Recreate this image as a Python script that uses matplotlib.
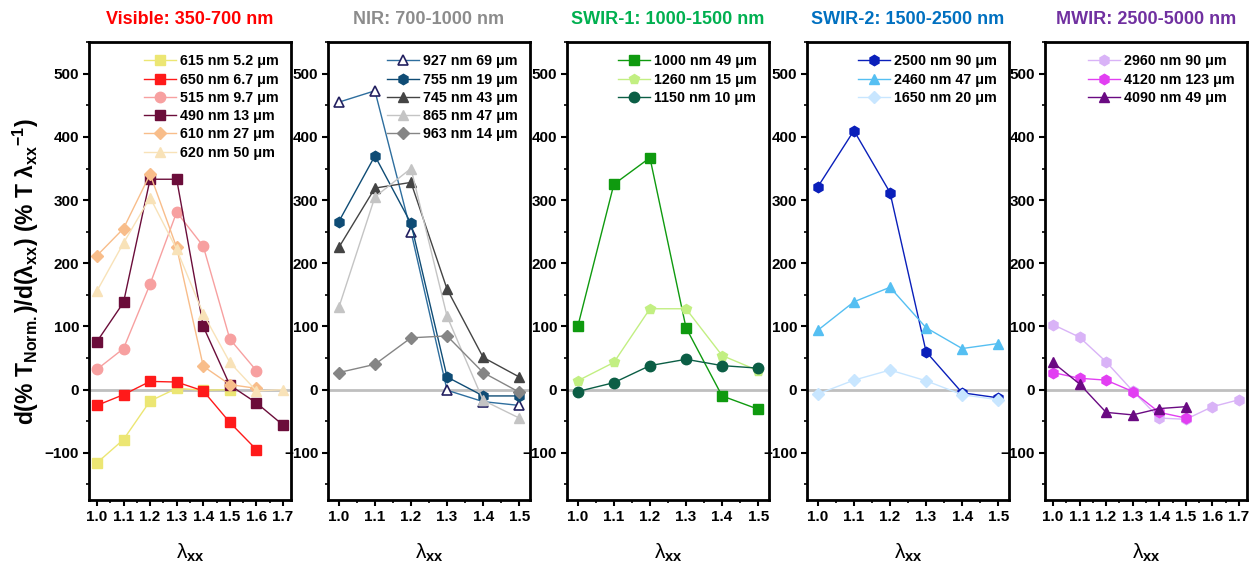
import matplotlib
matplotlib.use("Agg")
import matplotlib.pyplot as plt
from matplotlib.ticker import MultipleLocator

plt.rcParams['font.family'] = ['Liberation Sans', 'DejaVu Sans']
plt.rcParams['font.weight'] = 'bold'
plt.rcParams['mathtext.fontset'] = 'custom'
plt.rcParams['mathtext.rm'] = 'Liberation Sans'
plt.rcParams['mathtext.bf'] = 'Liberation Sans:bold'
plt.rcParams['mathtext.it'] = 'Liberation Sans:italic'

x_long = [1.0, 1.1, 1.2, 1.3, 1.4, 1.5, 1.6, 1.7]

# Visible
vis_labels = ['615 nm 5.2 μm', '650 nm 6.7 μm', '515 nm 9.7 μm',
              '490 nm 13 μm', '610 nm 27 μm', '620 nm 50 μm']
vis_values = [
    [-116, -79, -18, 2, -1, 0],
    [-25, -8, 13, 12, -2, -52, -95],
    [32, 65, 167, 281, 227, 80, 30],
    [76, 138, 333, 333, 100, 7, -21, -56],
    [212, 255, 341, 225, 37, 8, 2],
    [156, 232, 304, 222, 120, 43, -2, 0],
]
vis_colors = ['#ece673', '#ff1a1a', '#f7a0a0', '#6b0d3a', '#f8bd8a', '#f8e2b8']
vis_markers = ['s', 's', 'o', 's', 'D', '^']

# NIR
nir_labels = ['927 nm 69 μm', '755 nm 19 μm', '745 nm 43 μm',
              '865 nm 47 μm', '963 nm 14 μm']
nir_values = [
    [455, 473, 250, -1, -19, -25],
    [266, 370, 263, 20, -10, -10],
    [225, 319, 328, 159, 51, 20],
    [130, 305, 350, 116, -17, -45],
    [27, 40, 82, 85, 27, -4],
]
nir_colors = ['#2e6e9e', '#0f4c75', '#444444', '#c4c4c4', '#858585']
nir_markers = ['^', 'h', '^', '^', 'D']

# SWIR-1
sw1_labels = ['1000 nm 49 μm', '1260 nm 15 μm', '1150 nm 10 μm']
sw1_values = [
    [100, 325, 367, 98, -10, -31],
    [14, 43, 128, 128, 54, 30],
    [-3, 11, 38, 48, 38, 34],
]
sw1_colors = ['#0f9a0f', '#c2ef82', '#0b5e45']
sw1_markers = ['s', 'p', 'o']

# SWIR-2
sw2_labels = ['2500 nm 90 μm', '2460 nm 47 μm', '1650 nm 20 μm']
sw2_values = [
    [321, 410, 312, 60, -5, -13],
    [94, 139, 162, 98, 65, 73],
    [-7, 15, 31, 14, -8, -16],
]
sw2_colors = ['#0a1fba', '#55bff2', '#c8e6ff']
sw2_markers = ['h', '^', 'D']

# MWIR
mw_labels = ['2960 nm 90 μm', '4120 nm 123 μm', '4090 nm 49 μm']
mw_values = [
    [103, 83, 44, -2, -45, -47, -27, -16],
    [27, 18, 15, -3, -36, -45],
    [43, 9, -36, -40, -30, -27],
]
mw_colors = ['#d9b3f7', '#e23ff2', '#6a0a82']
mw_markers = ['h', 'h', '^']

panels = [
    ('Visible: 350-700 nm', '#ff0000', vis_labels, vis_values, vis_colors, vis_markers, 1.7),
    ('NIR: 700-1000 nm', '#8c8c8c', nir_labels, nir_values, nir_colors, nir_markers, 1.5),
    ('SWIR-1: 1000-1500 nm', '#00b050', sw1_labels, sw1_values, sw1_colors, sw1_markers, 1.5),
    ('SWIR-2: 1500-2500 nm', '#0070c0', sw2_labels, sw2_values, sw2_colors, sw2_markers, 1.5),
    ('MWIR: 2500-5000 nm', '#7030a0', mw_labels, mw_values, mw_colors, mw_markers, 1.7),
]

fig = plt.figure(figsize=(12.51, 5.62), dpi=100)
lefts = [0.0711, 0.2622, 0.4532, 0.6451, 0.8353]

for k, (title, tcolor, labels, values, colors, markers, xmax) in enumerate(panels):
    ax = fig.add_axes([lefts[k], 0.110, 0.1615, 0.815])
    ax.axhline(0, color='#bfbfbf', lw=2, zorder=1)
    for lab, vals, c, m in zip(labels, values, colors, markers):
        xs = x_long[:len(vals)]
        ms = 6.5 if m == 'D' else 7.5
        if k == 1 and lab.startswith('927'):
            ax.plot(xs, vals, color=c, lw=1, marker=m, ms=ms, mfc='white',
                    mec='#232060', mew=1.2, label=lab, zorder=3)
        else:
            ax.plot(xs, vals, color=c, lw=1, marker=m, ms=ms, mfc=c,
                    mec=c, label=lab, zorder=3)
    ax.set_ylim(-175, 550)
    ax.set_xlim(0.97, xmax + 0.03)
    ax.xaxis.set_major_locator(MultipleLocator(0.1))
    ax.xaxis.set_minor_locator(MultipleLocator(0.05))
    ax.yaxis.set_major_locator(MultipleLocator(100))
    ax.yaxis.set_minor_locator(MultipleLocator(50))
    ax.tick_params(which='major', direction='out', length=4, width=1.5,
                   labelsize=11, pad=3)
    ax.tick_params(which='minor', direction='out', length=2.5, width=1.2)
    ax.tick_params(top=False, right=False)
    for lbl in ax.get_xticklabels() + ax.get_yticklabels():
        lbl.set_fontweight('bold')
    for s in ax.spines.values():
        s.set_linewidth(2)
    ax.set_title(title, color=tcolor, fontsize=13, fontweight='bold', pad=13)
    ax.set_xlabel(r'λ$_{\mathbf{xx}}$', fontsize=15, labelpad=13)
    ax.legend(loc='upper right', frameon=False,
              handlelength=2.2, labelspacing=0.3, handletextpad=0.3,
              borderaxespad=0.45, prop={'weight': 'bold', 'size': 10.3})
    if k == 0:
        ax.set_ylabel(r'd(% T$_{\mathbf{Norm.}}$)/d(λ$_{\mathbf{xx}}$) (% T λ$_{\mathbf{xx}}$$^{\mathbf{-1}}$)',
                      fontsize=16.5, fontweight='bold', labelpad=3)

fig.savefig('out.png', dpi=100)
